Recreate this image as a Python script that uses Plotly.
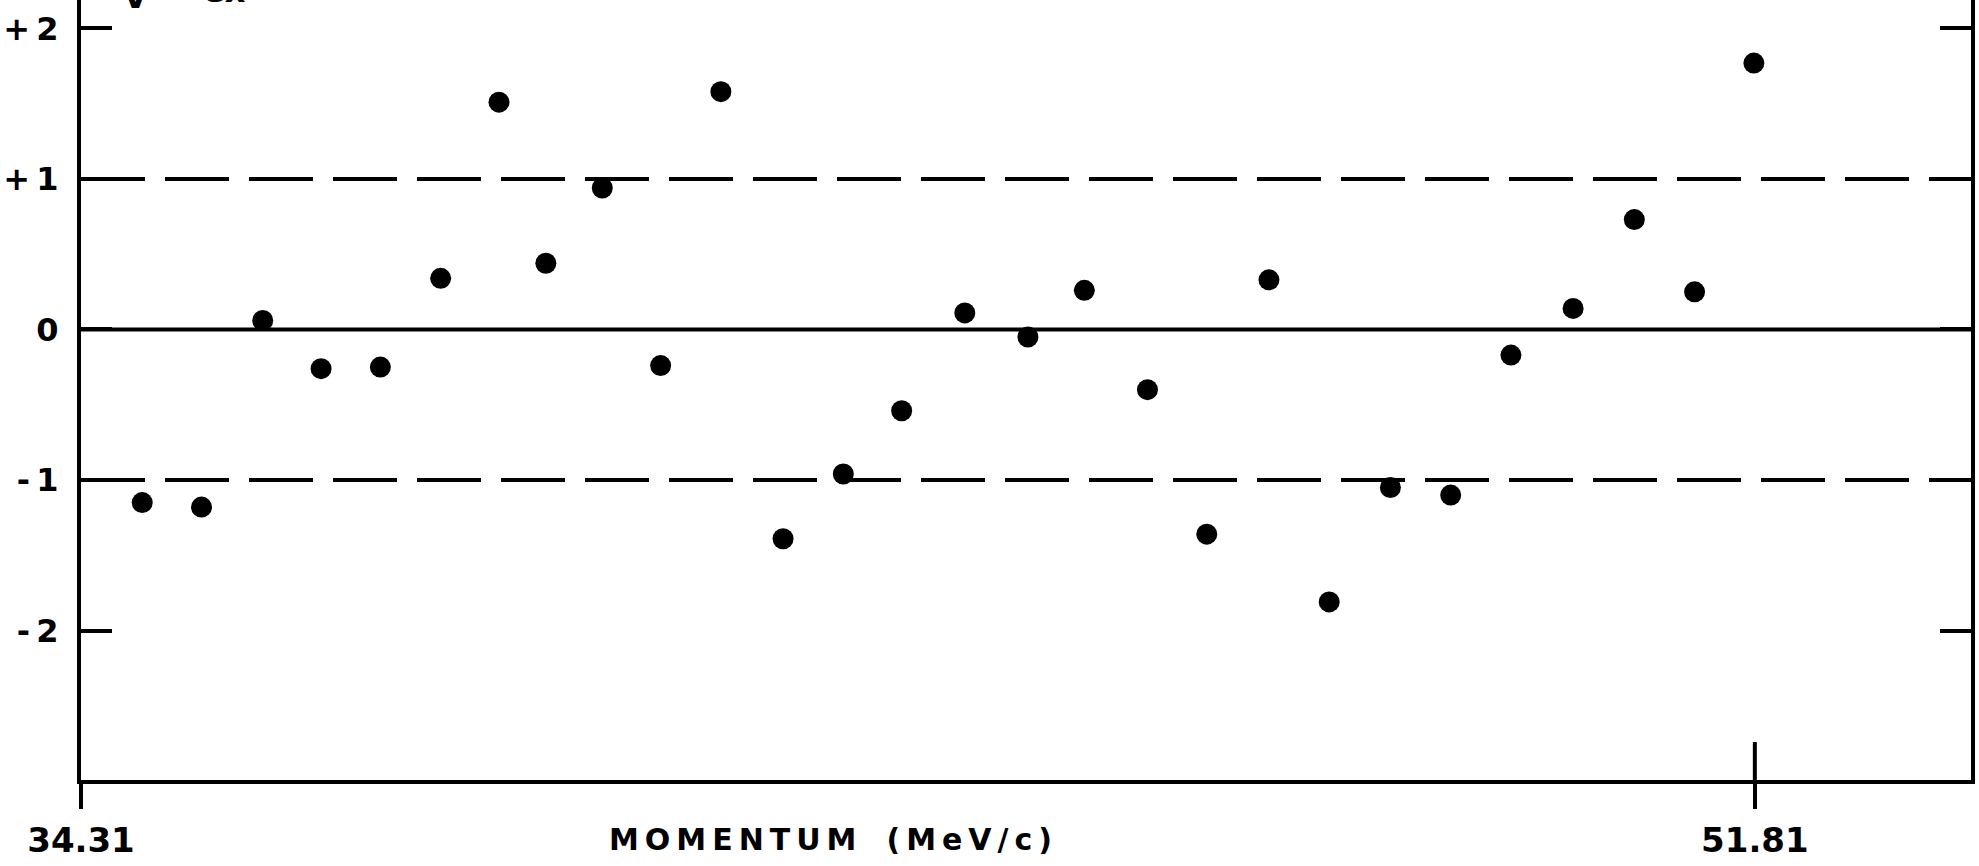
import plotly.graph_objects as go

# Momentum (MeV/c) of each measurement and its normalized deviation
momentum = [34.95, 35.57, 36.21, 36.82, 37.44, 38.07, 38.68, 39.17, 39.76, 40.37,
            41.00, 41.65, 42.28, 42.89, 43.55, 44.21, 44.80, 45.46, 46.08, 46.73,
            47.36, 48.00, 48.63, 49.26, 49.91, 50.55, 51.18, 51.80]
deviation = [-1.15, -1.18, 0.06, -0.26, -0.25, 0.34, 1.51, 0.44, 0.94, -0.24,
             1.58, -1.39, -0.96, -0.54, 0.11, -0.05, 0.26, -0.40, -1.36, 0.33,
             -1.81, -1.05, -1.10, -0.17, 0.14, 0.73, 0.25, 1.77]

y_tick_vals = [-2, -1, 0, 1, 2]
y_tick_text = ["-\u20092", "-\u20091", "0", "+\u20091", "+\u20092"]
x_tick_vals = [34.31, 51.81]
x_tick_text = ["34.31", "51.81"]
band_levels = [-1, 1]

X_RANGE = [34.31, 54.07]
Y_RANGE = [-2.993, 2.189]

FONT = "DejaVu Sans"
INK = "black"

fig = go.Figure()
fig.add_trace(go.Scatter(
    x=momentum, y=deviation, mode="markers",
    marker=dict(size=21, color=INK, line=dict(width=0)),
    showlegend=False, hoverinfo="x+y",
))

shapes = []
# +/-1 sigma bands as long dashes across the frame
for lvl in band_levels:
    shapes.append(dict(type="line", xref="paper", yref="y", x0=0, x1=1, y0=lvl, y1=lvl,
                       line=dict(color=INK, width=4, dash="64px,20px"), layer="below"))
# zero reference line
shapes.append(dict(type="line", xref="paper", yref="y", x0=0, x1=1, y0=0, y1=0,
                   line=dict(color=INK, width=4), layer="below"))
# inner part of the 51.81 tick, which crosses the bottom axis
shapes.append(dict(type="line", xref="x", yref="paper", x0=x_tick_vals[1], x1=x_tick_vals[1],
                   y0=0, y1=38 / 780, line=dict(color=INK, width=4)))

bold = dict(family=FONT, size=32, color=INK, weight="bold")
xfont = dict(family=FONT, size=34, color=INK, weight="bold")

fig.update_layout(
    width=1979, height=866,
    margin=dict(l=81, r=8, t=0, b=86, autoexpand=False),
    paper_bgcolor="white", plot_bgcolor="white",
    shapes=shapes,
    font=bold,
    xaxis=dict(range=X_RANGE, showgrid=False, zeroline=False, automargin=False,
               showline=True, linewidth=4, linecolor=INK,
               tickvals=x_tick_vals, ticktext=x_tick_text,
               ticks="outside", ticklen=25, tickwidth=4, tickcolor=INK,
               ticklabelstandoff=2,
               tickfont=xfont),
    yaxis=dict(range=Y_RANGE, showgrid=False, zeroline=False, automargin=False,
               showline=True, linewidth=4, linecolor=INK, mirror="ticks",
               tickvals=y_tick_vals, ticktext=y_tick_text,
               ticks="inside", ticklen=31, tickwidth=4, tickcolor=INK,
               ticklabelstandoff=12,
               tickfont=bold),
    annotations=[
        dict(text="M\u2009O\u2009M\u2009E\u2009N\u2009T\u2009U\u2009M\u2003(\u2009M\u2009e\u2009V\u2009/\u2009c\u2009)",
             xref="paper", yref="paper", x=(830 - 81) / 1890, y=-59 / 780,
             xanchor="center", yanchor="middle", showarrow=False,
             font=dict(family=FONT, size=30, color=INK, weight="bold")),
        # axis label running off the top edge
        dict(text="V", xref="paper", yref="paper", x=(135 - 81) / 1890, y=1,
             xanchor="center", yanchor="bottom", yshift=-18, showarrow=False,
             font=bold),
        dict(text="ex", xref="paper", yref="paper", x=(224 - 81) / 1890, y=1,
             xanchor="center", yanchor="bottom", yshift=-12, showarrow=False,
             font=bold),
    ],
)

fig.write_html("out.html")
